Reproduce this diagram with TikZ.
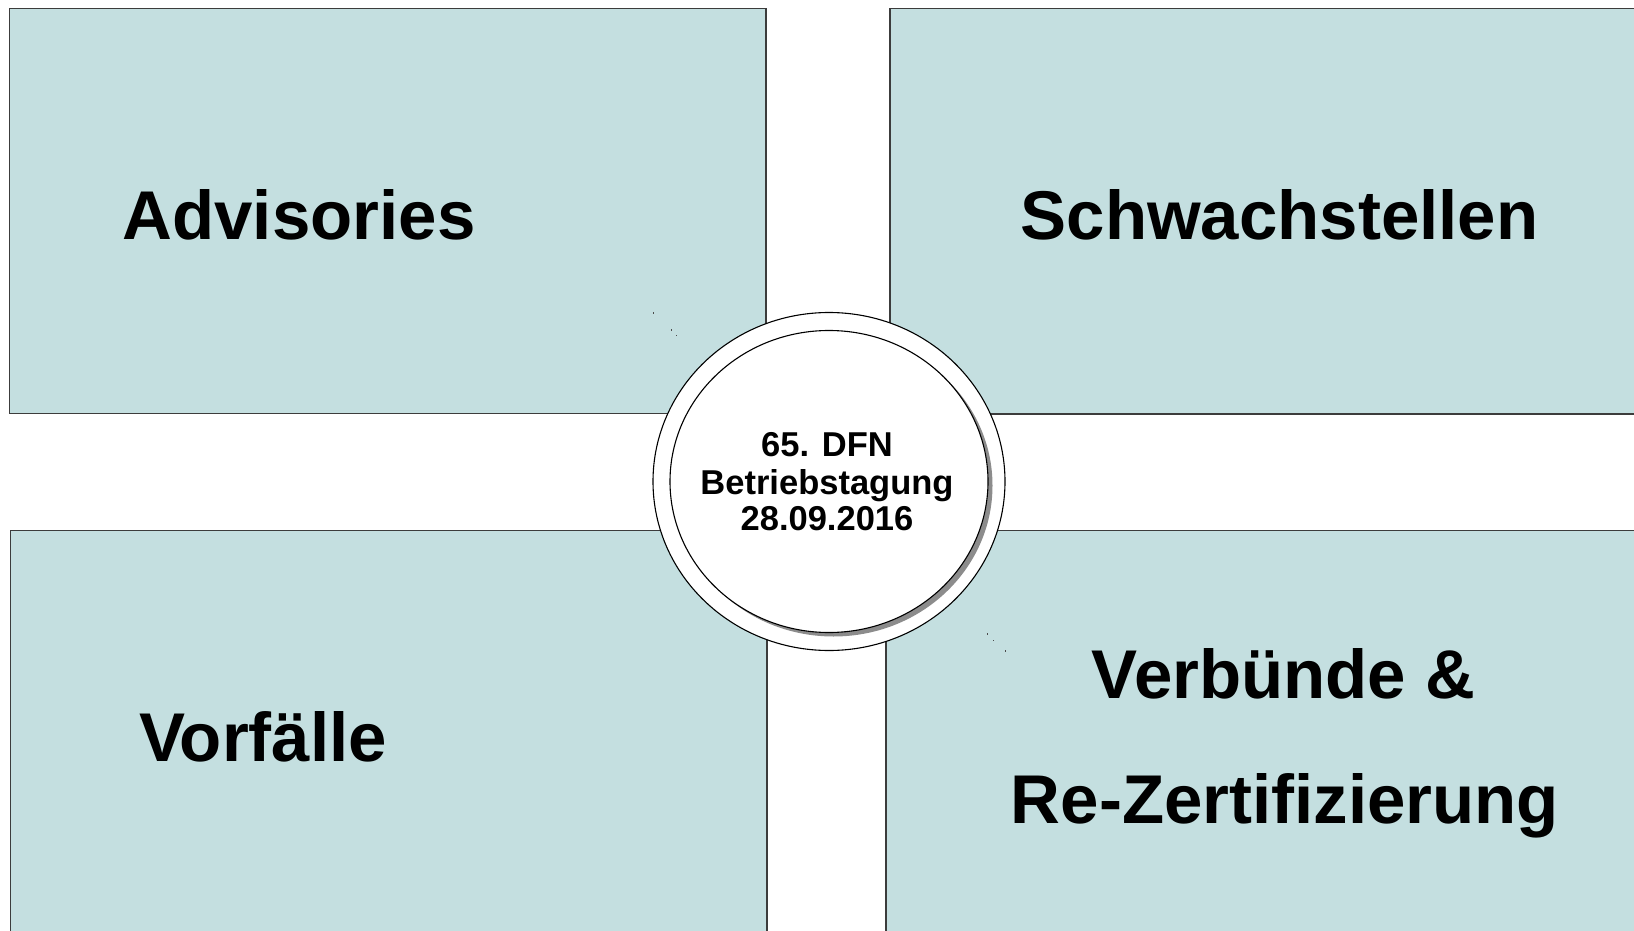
\documentclass[tikz,border=0pt]{standalone}
\usepackage{fontspec}
\setmainfont{Liberation Sans}
\usetikzlibrary{shapes.geometric}
\definecolor{panelfill}{RGB}{196,223,224}
\definecolor{paneledge}{RGB}{60,60,60}
\tikzset{
  panel/.style={fill=panelfill, draw=paneledge, line width=1.3pt},
  bigtitle/.style={anchor=base, inner sep=0pt, font=\bfseries\fontsize{69}{83}\selectfont},
  smalltitle/.style={anchor=base, inner sep=0pt, font=\bfseries\fontsize{34.5}{38}\selectfont},
  speck/.style={fill=black!70, draw=none}
}
\begin{document}
\begin{tikzpicture}[x=1pt, y=-1pt]
  \useasboundingbox (0,0) rectangle (1634,931);
  \clip (0,0) rectangle (1634,931);
  \fill[white] (0,0) rectangle (1634,931);

  % four quadrant panels
  \draw[panel] (9.5,8.5) rectangle (766,413.5);
  \draw[panel] (890,8.5) rectangle (1650,414);
  \draw[panel] (10.5,530.5) rectangle (767,950);
  \draw[panel] (886,530.5) rectangle (1650,950);

  % panel titles
  \node[bigtitle] (adv) at (299,239) {Advisories};
  \node[bigtitle] (schw) at (1279.5,239) {Schwachstellen};
  \node[bigtitle] (vorf) at (263,761) {Vorfälle};
  \node[bigtitle] (verb) at (1283.5,698) {Verbünde \&};
  \node[bigtitle] (rezert) at (1285,823) {Re-Zertifizierung};

  % small specks near the ring
  \fill[speck] (652.5,312) rectangle +(1.5,2);
  \fill[speck] (670.5,329) rectangle +(1.5,2);
  \fill[speck] (676,334.5) rectangle +(1,1.5);
  \fill[speck] (986.5,633) rectangle +(1.5,2);
  \fill[speck] (993,639.5) rectangle +(1,1.5);
  \fill[speck] (1004.5,649.5) rectangle +(1.5,2);

  % central badge: outer ring, shadow, inner disc
  \node[ellipse, draw=black, fill=white, line width=1.1pt,
        minimum width=352pt, minimum height=338pt, inner sep=0pt] (ring) at (829,481.5) {};
  \fill[black!45] (833.5,485.5) ellipse [x radius=159pt, y radius=151pt];
  \draw[black, fill=white, line width=1.1pt] (829,481.5) ellipse [x radius=159pt, y radius=151pt];
  \coordinate (disc) at (829,481.5);

  % badge text
  \node[smalltitle] (l1) at (827,456.5) {65. DFN};
  \node[smalltitle] (l2) at (827,494) {Betriebstagung};
  \node[smalltitle] (l3) at (827,530.5) {28.09.2016};
\end{tikzpicture}
\end{document}
